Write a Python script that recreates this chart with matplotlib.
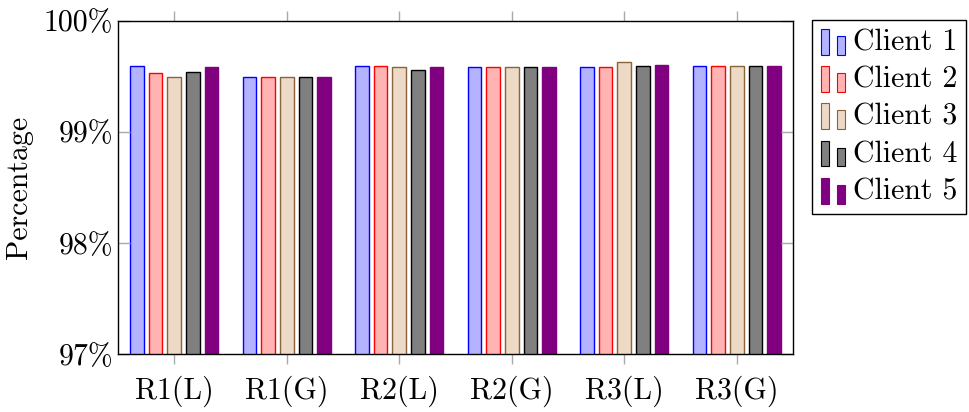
import matplotlib
matplotlib.use('Agg')
import matplotlib.pyplot as plt
import matplotlib.patches as mpatches
from matplotlib.legend_handler import HandlerBase
import numpy as np

plt.rcParams['font.family'] = ['cmr10', 'DejaVu Serif']
plt.rcParams['mathtext.fontset'] = 'cm'
plt.rcParams['axes.formatter.use_mathtext'] = True

# 数据
groups = ['R1(L)', 'R1(G)', 'R2(L)', 'R2(G)', 'R3(L)', 'R3(G)']
clients = ['Client 1', 'Client 2', 'Client 3', 'Client 4', 'Client 5']
client1 = [99.59, 99.49, 99.59, 99.58, 99.58, 99.59]
client2 = [99.53, 99.49, 99.59, 99.58, 99.58, 99.59]
client3 = [99.49, 99.49, 99.58, 99.58, 99.63, 99.59]
client4 = [99.54, 99.49, 99.56, 99.58, 99.59, 99.59]
client5 = [99.58, 99.49, 99.58, 99.58, 99.60, 99.59]
yticks = [97, 98, 99, 100]

series = [client1, client2, client3, client4, client5]
fills = ['#b3b3ff', '#ffb3b3', '#ecd9c6', '#808080', '#800080']
edges = ['#0000ff', '#ff0000', '#8c6239', '#000000', '#800080']
fs = 21.5


class TwoBars(HandlerBase):
    # pgfplots 风格的图例：两个小柱子
    def create_artists(self, legend, orig_handle, xdescent, ydescent,
                       width, height, fontsize, trans):
        fc = orig_handle.get_facecolor()
        ec = orig_handle.get_edgecolor()
        y0 = -ydescent - 3
        r1 = mpatches.Rectangle((-xdescent, y0), 6.0, 18.5, fc=fc, ec=ec, lw=0.8, transform=trans)
        r2 = mpatches.Rectangle((-xdescent + 11.5, y0), 5.6, 13.5, fc=fc, ec=ec, lw=0.8, transform=trans)
        return [r1, r2]


fig = plt.figure(figsize=(9.69, 4.12), dpi=100)
ax = fig.add_axes([118 / 969, 1 - 354 / 412, 675 / 969, 333.3 / 412])

x = np.arange(len(groups))
pitch = 0.166
width = 0.122
handles = []
for i, vals in enumerate(series):
    b = ax.bar(x + (i - 2) * pitch, vals, width, color=fills[i], edgecolor=edges[i],
               linewidth=1.0, label=clients[i])
    handles.append(b.patches[0])

ax.set_xlim(-0.5, 5.5)
ax.set_ylim(97, 100)
ax.set_xticks(x)
ax.set_xticklabels(groups, fontsize=fs)
ax.set_yticks(yticks)
ax.set_yticklabels(['%d%%' % v for v in yticks], fontsize=fs)
ax.tick_params(axis='y', direction='in', length=8.6, color='#aaaaaa', left=True, right=True, width=1)
ax.tick_params(axis='x', direction='out', length=7.5, color='#aaaaaa', top=True, bottom=True, width=1, pad=8)
ax.set_ylabel('Percentage', fontsize=fs, labelpad=8)
for s in ax.spines.values():
    s.set_linewidth(1.0)

leg = fig.legend(handles, clients, loc='upper left', bbox_to_anchor=(812 / 969, 1 - 20 / 412),
                 handler_map={mpatches.Rectangle: TwoBars()}, fontsize=fs, frameon=True,
                 fancybox=False, edgecolor='black', framealpha=1, handlelength=0.82,
                 handletextpad=0.25, labelspacing=0.33, borderpad=0.3, borderaxespad=0)
leg.get_frame().set_linewidth(1.0)

fig.savefig('out.png', dpi=100)
